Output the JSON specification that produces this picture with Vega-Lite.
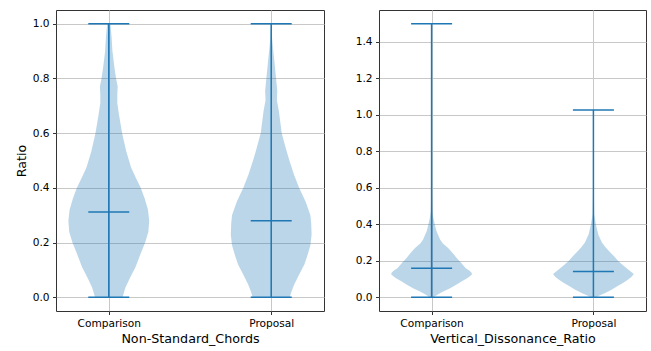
{
  "$schema": "https://vega.github.io/schema/vega-lite/v6.json",
  "background": "white",
  "padding": {"left": 14, "top": 9, "right": 5, "bottom": 5},
  "spacing": 29,
  "config": {
    "font": "DejaVu Sans",
    "view": {"stroke": "#333333", "strokeWidth": 1},
    "axis": {
      "labelFont": "DejaVu Sans", "titleFont": "DejaVu Sans",
      "labelFontSize": 10.6, "titleFontSize": 12.7, "titleFontWeight": "normal",
      "labelColor": "#000000", "titleColor": "#000000",
      "tickColor": "#000000", "tickSize": 3.5, "tickWidth": 0.8, "labelPadding": 3.5,
      "domain": false, "gridColor": "#c8c8c8", "gridWidth": 1, "titlePadding": 4
    }
  },
  "datasets": {
    "dens": [
      {"p": "NSC", "g": "Comparison", "v": 0.0, "w": 0.34},
      {"p": "NSC", "g": "Comparison", "v": 0.035, "w": 0.41},
      {"p": "NSC", "g": "Comparison", "v": 0.07, "w": 0.52},
      {"p": "NSC", "g": "Comparison", "v": 0.11, "w": 0.66},
      {"p": "NSC", "g": "Comparison", "v": 0.16, "w": 0.79},
      {"p": "NSC", "g": "Comparison", "v": 0.2, "w": 0.9},
      {"p": "NSC", "g": "Comparison", "v": 0.24, "w": 0.98},
      {"p": "NSC", "g": "Comparison", "v": 0.28, "w": 1.0},
      {"p": "NSC", "g": "Comparison", "v": 0.32, "w": 0.97},
      {"p": "NSC", "g": "Comparison", "v": 0.36, "w": 0.89},
      {"p": "NSC", "g": "Comparison", "v": 0.4, "w": 0.79},
      {"p": "NSC", "g": "Comparison", "v": 0.44, "w": 0.66},
      {"p": "NSC", "g": "Comparison", "v": 0.475, "w": 0.55},
      {"p": "NSC", "g": "Comparison", "v": 0.535, "w": 0.43},
      {"p": "NSC", "g": "Comparison", "v": 0.6, "w": 0.33},
      {"p": "NSC", "g": "Comparison", "v": 0.67, "w": 0.25},
      {"p": "NSC", "g": "Comparison", "v": 0.71, "w": 0.21},
      {"p": "NSC", "g": "Comparison", "v": 0.74, "w": 0.21},
      {"p": "NSC", "g": "Comparison", "v": 0.77, "w": 0.22},
      {"p": "NSC", "g": "Comparison", "v": 0.8, "w": 0.18},
      {"p": "NSC", "g": "Comparison", "v": 0.84, "w": 0.14},
      {"p": "NSC", "g": "Comparison", "v": 0.9, "w": 0.09},
      {"p": "NSC", "g": "Comparison", "v": 0.95, "w": 0.07},
      {"p": "NSC", "g": "Comparison", "v": 1.0, "w": 0.04},
      {"p": "NSC", "g": "Proposal", "v": 0.0, "w": 0.46},
      {"p": "NSC", "g": "Proposal", "v": 0.02, "w": 0.5},
      {"p": "NSC", "g": "Proposal", "v": 0.047, "w": 0.57},
      {"p": "NSC", "g": "Proposal", "v": 0.08, "w": 0.68},
      {"p": "NSC", "g": "Proposal", "v": 0.12, "w": 0.82},
      {"p": "NSC", "g": "Proposal", "v": 0.15, "w": 0.89},
      {"p": "NSC", "g": "Proposal", "v": 0.19, "w": 0.97},
      {"p": "NSC", "g": "Proposal", "v": 0.23, "w": 1.0},
      {"p": "NSC", "g": "Proposal", "v": 0.27, "w": 0.99},
      {"p": "NSC", "g": "Proposal", "v": 0.3, "w": 0.97},
      {"p": "NSC", "g": "Proposal", "v": 0.35, "w": 0.85},
      {"p": "NSC", "g": "Proposal", "v": 0.4, "w": 0.69},
      {"p": "NSC", "g": "Proposal", "v": 0.45, "w": 0.56},
      {"p": "NSC", "g": "Proposal", "v": 0.5, "w": 0.45},
      {"p": "NSC", "g": "Proposal", "v": 0.535, "w": 0.38},
      {"p": "NSC", "g": "Proposal", "v": 0.6, "w": 0.26},
      {"p": "NSC", "g": "Proposal", "v": 0.68, "w": 0.19},
      {"p": "NSC", "g": "Proposal", "v": 0.72, "w": 0.14},
      {"p": "NSC", "g": "Proposal", "v": 0.755, "w": 0.15},
      {"p": "NSC", "g": "Proposal", "v": 0.8, "w": 0.12},
      {"p": "NSC", "g": "Proposal", "v": 0.86, "w": 0.08},
      {"p": "NSC", "g": "Proposal", "v": 0.91, "w": 0.045},
      {"p": "NSC", "g": "Proposal", "v": 0.95, "w": 0.02},
      {"p": "NSC", "g": "Proposal", "v": 1.0, "w": 0.01},
      {"p": "VDR", "g": "Comparison", "v": 0.0, "w": 0.05},
      {"p": "VDR", "g": "Comparison", "v": 0.015, "w": 0.15},
      {"p": "VDR", "g": "Comparison", "v": 0.033, "w": 0.3},
      {"p": "VDR", "g": "Comparison", "v": 0.05, "w": 0.46},
      {"p": "VDR", "g": "Comparison", "v": 0.07, "w": 0.62},
      {"p": "VDR", "g": "Comparison", "v": 0.088, "w": 0.75},
      {"p": "VDR", "g": "Comparison", "v": 0.106, "w": 0.89},
      {"p": "VDR", "g": "Comparison", "v": 0.125, "w": 1.0},
      {"p": "VDR", "g": "Comparison", "v": 0.134, "w": 0.99},
      {"p": "VDR", "g": "Comparison", "v": 0.145, "w": 0.94},
      {"p": "VDR", "g": "Comparison", "v": 0.161, "w": 0.84},
      {"p": "VDR", "g": "Comparison", "v": 0.19, "w": 0.73},
      {"p": "VDR", "g": "Comparison", "v": 0.216, "w": 0.62},
      {"p": "VDR", "g": "Comparison", "v": 0.243, "w": 0.52},
      {"p": "VDR", "g": "Comparison", "v": 0.27, "w": 0.41},
      {"p": "VDR", "g": "Comparison", "v": 0.295, "w": 0.28},
      {"p": "VDR", "g": "Comparison", "v": 0.317, "w": 0.21},
      {"p": "VDR", "g": "Comparison", "v": 0.363, "w": 0.12},
      {"p": "VDR", "g": "Comparison", "v": 0.39, "w": 0.09},
      {"p": "VDR", "g": "Comparison", "v": 0.418, "w": 0.06},
      {"p": "VDR", "g": "Comparison", "v": 0.44, "w": 0.04},
      {"p": "VDR", "g": "Comparison", "v": 0.47, "w": 0.02},
      {"p": "VDR", "g": "Comparison", "v": 0.6, "w": 0.008},
      {"p": "VDR", "g": "Comparison", "v": 0.9, "w": 0.004},
      {"p": "VDR", "g": "Comparison", "v": 1.2, "w": 0.002},
      {"p": "VDR", "g": "Comparison", "v": 1.5, "w": 0.001},
      {"p": "VDR", "g": "Proposal", "v": 0.0, "w": 0.07},
      {"p": "VDR", "g": "Proposal", "v": 0.01, "w": 0.15},
      {"p": "VDR", "g": "Proposal", "v": 0.024, "w": 0.29},
      {"p": "VDR", "g": "Proposal", "v": 0.042, "w": 0.45},
      {"p": "VDR", "g": "Proposal", "v": 0.06, "w": 0.59},
      {"p": "VDR", "g": "Proposal", "v": 0.078, "w": 0.73},
      {"p": "VDR", "g": "Proposal", "v": 0.097, "w": 0.86},
      {"p": "VDR", "g": "Proposal", "v": 0.112, "w": 0.94},
      {"p": "VDR", "g": "Proposal", "v": 0.128, "w": 1.0},
      {"p": "VDR", "g": "Proposal", "v": 0.14, "w": 0.93},
      {"p": "VDR", "g": "Proposal", "v": 0.152, "w": 0.86},
      {"p": "VDR", "g": "Proposal", "v": 0.175, "w": 0.74},
      {"p": "VDR", "g": "Proposal", "v": 0.198, "w": 0.62},
      {"p": "VDR", "g": "Proposal", "v": 0.225, "w": 0.51},
      {"p": "VDR", "g": "Proposal", "v": 0.253, "w": 0.39},
      {"p": "VDR", "g": "Proposal", "v": 0.275, "w": 0.3},
      {"p": "VDR", "g": "Proposal", "v": 0.3, "w": 0.21},
      {"p": "VDR", "g": "Proposal", "v": 0.344, "w": 0.12},
      {"p": "VDR", "g": "Proposal", "v": 0.4, "w": 0.06},
      {"p": "VDR", "g": "Proposal", "v": 0.43, "w": 0.04},
      {"p": "VDR", "g": "Proposal", "v": 0.454, "w": 0.02},
      {"p": "VDR", "g": "Proposal", "v": 0.6, "w": 0.008},
      {"p": "VDR", "g": "Proposal", "v": 0.8, "w": 0.004},
      {"p": "VDR", "g": "Proposal", "v": 1.027, "w": 0.001}
    ],
    "stats": [
      {"p": "NSC", "g": "Comparison", "min": 0.0, "median": 0.312, "max": 1.0},
      {"p": "NSC", "g": "Proposal", "min": 0.0, "median": 0.28, "max": 1.0},
      {"p": "VDR", "g": "Comparison", "min": 0.0, "median": 0.159, "max": 1.5},
      {"p": "VDR", "g": "Proposal", "min": 0.0, "median": 0.141, "max": 1.027}
    ]
  },
  "hconcat": [
    {
      "width": 268,
      "height": 301,
      "resolve": {"scale": {"x": "independent"}},
      "layer": [
        {
          "data": {"name": "dens"},
          "transform": [{"filter": "datum.p === 'NSC' && datum.g === 'Comparison'"}],
          "mark": {"type": "area", "orient": "horizontal", "fill": "#1f77b4", "fillOpacity": 0.3, "stroke": null},
          "encoding": {
            "y": {"field": "v", "type": "quantitative", "title": "Ratio",
                  "scale": {"domain": [-0.05, 1.05], "nice": false, "zero": false},
                  "axis": {"values": [0, 0.2, 0.4, 0.6, 0.8, 1.0], "format": ".1f", "grid": true}},
            "x": {"field": "w", "type": "quantitative", "stack": "center",
                  "scale": {"domain": [-0.1533, 3.1635], "nice": false, "zero": false}, "axis": null}
          }
        },
        {
          "data": {"name": "dens"},
          "transform": [{"filter": "datum.p === 'NSC' && datum.g === 'Proposal'"}],
          "mark": {"type": "area", "orient": "horizontal", "fill": "#1f77b4", "fillOpacity": 0.3, "stroke": null},
          "encoding": {
            "y": {"field": "v", "type": "quantitative", "title": "Ratio"},
            "x": {"field": "w", "type": "quantitative", "stack": "center",
                  "scale": {"domain": [-2.1635, 1.1533], "nice": false, "zero": false}, "axis": null}
          }
        },
        {
          "data": {"name": "stats"},
          "transform": [{"filter": "datum.p === 'NSC'"}],
          "encoding": {
            "x": {"field": "g", "type": "nominal", "sort": ["Comparison", "Proposal"],
                  "scale": {"type": "point", "padding": 0.325},
                  "axis": {"title": "Non-Standard_Chords", "labelAngle": 0, "grid": true}}
          },
          "layer": [
            {"mark": {"type": "rule", "color": "#1f77b4", "strokeWidth": 1.5},
             "encoding": {"y": {"field": "min", "type": "quantitative", "title": "Ratio"}, "y2": {"field": "max"}}},
            {"mark": {"type": "tick", "color": "#1f77b4", "size": 41, "thickness": 1.5, "opacity": 1},
             "encoding": {"y": {"field": "min", "type": "quantitative", "title": "Ratio"}}},
            {"mark": {"type": "tick", "color": "#1f77b4", "size": 41, "thickness": 1.5, "opacity": 1},
             "encoding": {"y": {"field": "max", "type": "quantitative", "title": "Ratio"}}},
            {"mark": {"type": "tick", "color": "#1f77b4", "size": 41, "thickness": 1.5, "opacity": 1},
             "encoding": {"y": {"field": "median", "type": "quantitative", "title": "Ratio"}}}
          ]
        }
      ]
    },
    {
      "width": 267,
      "height": 301,
      "resolve": {"scale": {"x": "independent"}},
      "layer": [
        {
          "data": {"name": "dens"},
          "transform": [{"filter": "datum.p === 'VDR' && datum.g === 'Comparison'"}],
          "mark": {"type": "area", "orient": "horizontal", "fill": "#1f77b4", "fillOpacity": 0.3, "stroke": null},
          "encoding": {
            "y": {"field": "v", "type": "quantitative", "title": null,
                  "scale": {"domain": [-0.075, 1.575], "nice": false, "zero": false},
                  "axis": {"values": [0, 0.2, 0.4, 0.6, 0.8, 1.0, 1.2, 1.4], "format": ".1f", "grid": true}},
            "x": {"field": "w", "type": "quantitative", "stack": "center",
                  "scale": {"domain": [-0.1509, 3.1536], "nice": false, "zero": false}, "axis": null}
          }
        },
        {
          "data": {"name": "dens"},
          "transform": [{"filter": "datum.p === 'VDR' && datum.g === 'Proposal'"}],
          "mark": {"type": "area", "orient": "horizontal", "fill": "#1f77b4", "fillOpacity": 0.3, "stroke": null},
          "encoding": {
            "y": {"field": "v", "type": "quantitative", "title": null},
            "x": {"field": "w", "type": "quantitative", "stack": "center",
                  "scale": {"domain": [-2.1536, 1.1509], "nice": false, "zero": false}, "axis": null}
          }
        },
        {
          "data": {"name": "stats"},
          "transform": [{"filter": "datum.p === 'VDR'"}],
          "encoding": {
            "x": {"field": "g", "type": "nominal", "sort": ["Comparison", "Proposal"],
                  "scale": {"type": "point", "padding": 0.325},
                  "axis": {"title": "Vertical_Dissonance_Ratio", "labelAngle": 0, "grid": true}}
          },
          "layer": [
            {"mark": {"type": "rule", "color": "#1f77b4", "strokeWidth": 1.5},
             "encoding": {"y": {"field": "min", "type": "quantitative", "title": null}, "y2": {"field": "max"}}},
            {"mark": {"type": "tick", "color": "#1f77b4", "size": 41, "thickness": 1.5, "opacity": 1},
             "encoding": {"y": {"field": "min", "type": "quantitative", "title": null}}},
            {"mark": {"type": "tick", "color": "#1f77b4", "size": 41, "thickness": 1.5, "opacity": 1},
             "encoding": {"y": {"field": "max", "type": "quantitative", "title": null}}},
            {"mark": {"type": "tick", "color": "#1f77b4", "size": 41, "thickness": 1.5, "opacity": 1},
             "encoding": {"y": {"field": "median", "type": "quantitative", "title": null}}}
          ]
        }
      ]
    }
  ]
}
